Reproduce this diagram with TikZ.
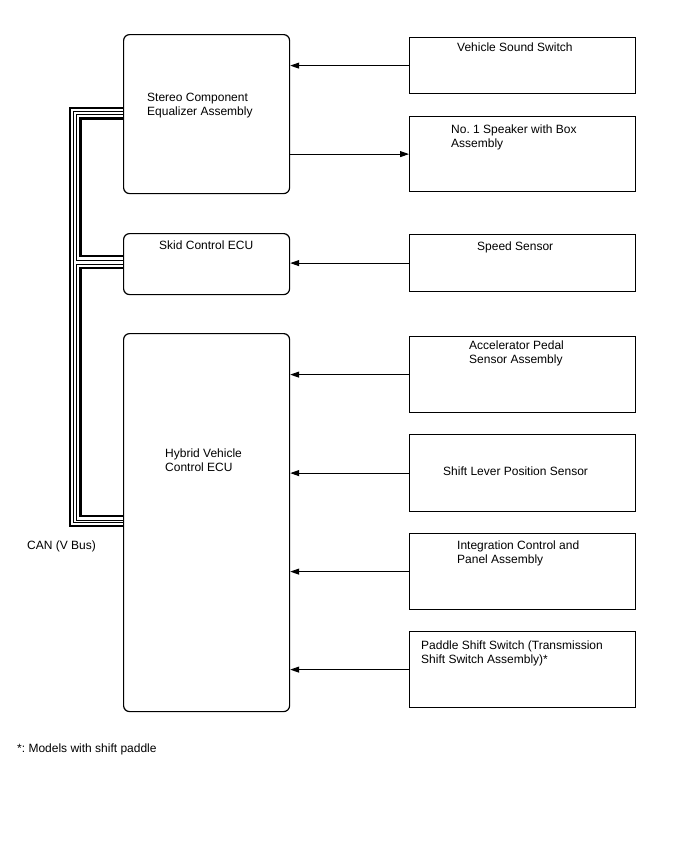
\documentclass[tikz,border=0pt]{standalone}
\usepackage{fontspec}
\setmainfont{Liberation Sans}
\usetikzlibrary{arrows.meta}
\begin{document}
\frenchspacing
\begin{tikzpicture}[x=1pt,y=-1pt,
 ecu/.style={draw,line width=1.2pt,rounded corners=6pt,anchor=north west,inner sep=0pt,minimum width=166pt},
 dev/.style={draw,line width=1.2pt,anchor=north west,inner sep=0pt,minimum width=226pt},
 txt/.style={anchor=west,inner sep=0pt,align=left,font=\fontsize{12}{14}\selectfont},
 sig/.style={line width=1pt,-{Triangle[length=9pt,width=6pt]}},
 canA/.style={line width=2.6pt},
 canB/.style={line width=1pt}]
\useasboundingbox[fill=white] (0,0) rectangle (688,852);

% ECUs
\node[ecu,minimum height=159pt] (stereo) at (123,34) {};
\node[ecu,minimum height=61pt] (skid) at (123,233) {};
\node[ecu,minimum height=378pt] (hv) at (123,333) {};

% devices
\node[dev,minimum height=56pt] (vss) at (409,37) {};
\node[dev,minimum height=75pt] (spk) at (409,116) {};
\node[dev,minimum height=57pt] (spd) at (409,234) {};
\node[dev,minimum height=76pt] (acc) at (409,336) {};
\node[dev,minimum height=77pt] (slp) at (409,434) {};
\node[dev,minimum height=76pt] (icp) at (409,533) {};
\node[dev,minimum height=76pt] (pss) at (409,631) {};

% texts
\node[txt] (tstereo) at (147,106) {Stereo Component\\Equalizer Assembly};
\node[txt] (tskid) at (159,245) {Skid Control ECU};
\node[txt] (thv) at (165,460) {Hybrid Vehicle\\Control ECU};
\node[txt] (tvss) at (457,47) {Vehicle Sound Switch};
\node[txt] (tspk) at (451,137) {No. 1 Speaker with Box\\Assembly};
\node[txt] (tspd) at (477,247) {Speed Sensor};
\node[txt] (tacc) at (469,353) {Accelerator Pedal\\Sensor Assembly};
\node[txt] (tslp) at (443,471) {Shift Lever Position Sensor};
\node[txt] (ticp) at (457,553) {Integration Control and\\Panel Assembly};
\node[txt] (tpss) at (421,653) {Paddle Shift Switch (Transmission\\Shift Switch Assembly)*};
\node[txt] (tcan) at (27,546) {CAN (V Bus)};
\node[txt] (tnote) at (17,749) {*: Models with shift paddle};

% signal arrows
\draw[sig] (vss.west) -- (vss.west -| stereo.east);
\draw[sig] (spk.west -| stereo.east) -- (spk.west);
\draw[sig] (spd.west) -- (spd.west -| skid.east);
\draw[sig] (acc.west) -- (acc.west -| hv.east);
\draw[sig] (slp.west) -- (slp.west -| hv.east);
\draw[sig] (icp.west) -- (icp.west -| hv.east);
\draw[sig] (pss.west) -- (pss.west -| hv.east);

% CAN bus
\draw[canA] ([yshift=-74pt]stereo.north west) -- ++(-53,0) |- ([yshift=-193pt]hv.north west);
\draw[canB] ([yshift=-77.5pt]stereo.north west) -- ++(-49.5,0) |- ([yshift=-189.5pt]hv.north west);
\draw[canB] ([yshift=-80.5pt]stereo.north west) -- ++(-46.5,0) |- ([yshift=-27pt]skid.north west);
\draw[canA] ([yshift=-84.5pt]stereo.north west) -- ++(-42.5,0) |- ([yshift=-23pt]skid.north west);
\draw[canB] ([yshift=-31pt]skid.north west) -- ++(-46.5,0) |- ([yshift=-187pt]hv.north west);
\draw[canA] ([yshift=-35pt]skid.north west) -- ++(-42.5,0) |- ([yshift=-183pt]hv.north west);
\end{tikzpicture}
\end{document}
